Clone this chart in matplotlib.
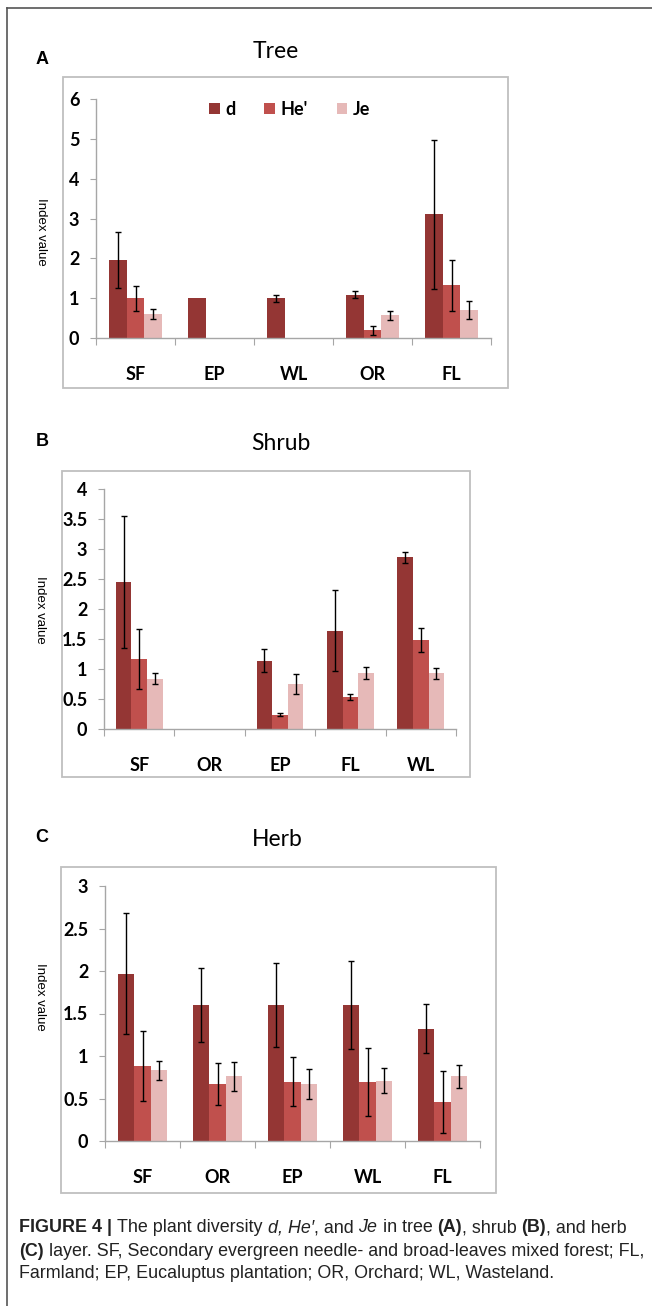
import numpy as np
import matplotlib
matplotlib.use("Agg")
import matplotlib.pyplot as plt
from matplotlib.patches import Rectangle

# ---- data ----
series = ["d", "He'", "Je"]
colors = ["#943634", "#C0504D", "#E6B9B8"]

tree_sites = ["SF", "EP", "WL", "OR", "FL"]
tree_d = [1.96, 1.00, 1.00, 1.09, 3.11]
tree_d_err = [0.70, 0.0, 0.09, 0.09, 1.87]
tree_he = [1.00, 0.0, 0.0, 0.19, 1.32]
tree_he_err = [0.31, 0.0, 0.0, 0.11, 0.65]
tree_je = [0.60, 0.0, 0.0, 0.57, 0.71]
tree_je_err = [0.13, 0.0, 0.0, 0.11, 0.23]

shrub_sites = ["SF", "OR", "EP", "FL", "WL"]
shrub_d = [2.45, 0.0, 1.14, 1.64, 2.86]
shrub_d_err = [1.10, 0.0, 0.19, 0.67, 0.09]
shrub_he = [1.16, 0.0, 0.24, 0.54, 1.49]
shrub_he_err = [0.50, 0.0, 0.03, 0.05, 0.20]
shrub_je = [0.84, 0.0, 0.75, 0.94, 0.93]
shrub_je_err = [0.09, 0.0, 0.17, 0.10, 0.09]

herb_sites = ["SF", "OR", "EP", "WL", "FL"]
herb_d = [1.97, 1.60, 1.60, 1.60, 1.32]
herb_d_err = [0.71, 0.44, 0.49, 0.52, 0.29]
herb_he = [0.88, 0.67, 0.70, 0.70, 0.46]
herb_he_err = [0.41, 0.25, 0.29, 0.40, 0.36]
herb_je = [0.83, 0.76, 0.67, 0.71, 0.76]
herb_je_err = [0.11, 0.17, 0.18, 0.15, 0.14]

W, H = 652, 1306
fig = plt.figure(figsize=(W / 100, H / 100), dpi=100)

def fx(px):
    return px / W

def fy(py):
    return 1 - py / H

# outer frame (top and left edges visible)
fig.add_artist(plt.Line2D([fx(7), fx(7)], [fy(8), 0], color="#555555", lw=1.2))
fig.add_artist(plt.Line2D([fx(7), 1], [fy(8), fy(8)], color="#555555", lw=1.2))

tick_font = dict(family=["Lato", "DejaVu Sans"], weight="bold", size=13)


def panel(letter, title, sites, vals, errs, ymax, ystep, box, ax_px, title_xy, letter_xy, ylab_xy, legend=False):
    # box: (x0, y0, x1, y1) in pixels; ax_px: (xleft, xright, ytop, ybottom)
    x0, y0, x1, y1 = box
    fig.add_artist(Rectangle((fx(x0), fy(y1)), fx(x1 - x0), (y1 - y0) / H,
                             fill=False, edgecolor="#BFBFBF", lw=1.3))
    xl, xr, yt, yb = ax_px
    ax = fig.add_axes([fx(xl), fy(yb), fx(xr - xl), (yb - yt) / H])
    x = np.arange(len(sites))
    w = 0.222
    for i in range(3):
        pos = x + (i - 1) * w
        ax.bar(pos, vals[i], w, color=colors[i], label=series[i], zorder=2)
        e = np.array(errs[i])
        keep = e > 0
        if keep.any():
            ax.errorbar(pos[keep], np.array(vals[i])[keep], yerr=e[keep], fmt="none",
                        ecolor="black", elinewidth=1.0, capsize=2.2, capthick=1.0, zorder=3)
    ax.set_xlim(-0.5, len(sites) - 0.5)
    ax.set_ylim(0, ymax)
    ax.set_yticks(np.arange(0, ymax + 0.001, ystep))
    ax.set_yticklabels(["%g" % v for v in np.arange(0, ymax + 0.001, ystep)], **tick_font)
    ax.set_xticks(np.arange(-0.5, len(sites)), labels=[""] * (len(sites) + 1))
    ax.set_xticks(x, labels=sites, minor=True, **tick_font)
    ax.tick_params(axis="x", which="major", length=5, color="#A6A6A6", direction="out")
    ax.tick_params(axis="x", which="minor", length=0, pad=20)
    ax.tick_params(axis="y", length=4, color="#A6A6A6", pad=8)
    for s in ["top", "right"]:
        ax.spines[s].set_visible(False)
    for s in ["left", "bottom"]:
        ax.spines[s].set_color("#A6A6A6")
        ax.spines[s].set_linewidth(1.0)
    ax.patch.set_alpha(0)
    fig.text(fx(title_xy[0]), fy(title_xy[1]), title, ha="center", va="center",
             family=["Lato", "DejaVu Sans"], size=16.5)
    fig.text(fx(letter_xy[0]), fy(letter_xy[1]), letter, ha="center", va="center",
             family=["Liberation Sans", "DejaVu Sans"], weight="bold", size=13)
    fig.text(fx(ylab_xy[0]), fy(ylab_xy[1]), "Index value", ha="center", va="center",
             rotation=-90, family=["Liberation Sans", "DejaVu Sans"], size=9.5)
    if legend:
        ax.legend(loc="upper center", bbox_to_anchor=(0.49, 1.06), ncol=3, frameon=False,
                  handlelength=0.6, handleheight=0.6, handletextpad=0.3, columnspacing=1.6,
                  prop=dict(family=["Lato", "DejaVu Sans"], weight="bold", size=13))
    return ax


panel("A", "Tree", tree_sites,
      [tree_d, tree_he, tree_je], [tree_d_err, tree_he_err, tree_je_err],
      6, 1, (63, 77, 508, 388), (96, 491, 99, 338), (276, 51), (42, 60), (41, 232), legend=True)
panel("B", "Shrub", shrub_sites,
      [shrub_d, shrub_he, shrub_je], [shrub_d_err, shrub_he_err, shrub_je_err],
      4, 0.5, (62, 471, 470, 777), (104, 456, 489, 729), (281, 443), (42, 442), (40, 610))
panel("C", "Herb", herb_sites,
      [herb_d, herb_he, herb_je], [herb_d_err, herb_he_err, herb_je_err],
      3, 0.5, (61, 867, 496, 1193), (105, 480, 886, 1141), (277, 839), (42, 838), (40, 997))

# caption with mixed styles
cap_family = ["Liberation Sans Narrow", "Liberation Sans", "DejaVu Sans"]
cap_size = 12.9
cap_lines = [
    [("FIGURE 4 | ", "bold", "normal"), ("The plant diversity ", "normal", "normal"),
     ("d, He\u2032", "normal", "italic"), (", and ", "normal", "normal"), ("Je", "normal", "italic"),
     (" in tree ", "normal", "normal"), ("(A)", "bold", "normal"), (", shrub ", "normal", "normal"),
     ("(B)", "bold", "normal"), (", and herb", "normal", "normal")],
    [("(C)", "bold", "normal"),
     (" layer. SF, Secondary evergreen needle- and broad-leaves mixed forest; FL,", "normal", "normal")],
    [("Farmland; EP, Eucaluptus plantation; OR, Orchard; WL, Wasteland.", "normal", "normal")],
]
cap_y = [1228, 1251, 1274]
renderer = fig.canvas.get_renderer()
for line, yy in zip(cap_lines, cap_y):
    xpos = 19
    for txt, wt, st in line:
        t = fig.text(fx(xpos), fy(yy), txt, ha="left", va="center", family=cap_family,
                     size=cap_size, weight=wt, style=st, color="#222222")
        bb = t.get_window_extent(renderer=renderer)
        xpos += bb.width

fig.savefig("out.png", dpi=100)
